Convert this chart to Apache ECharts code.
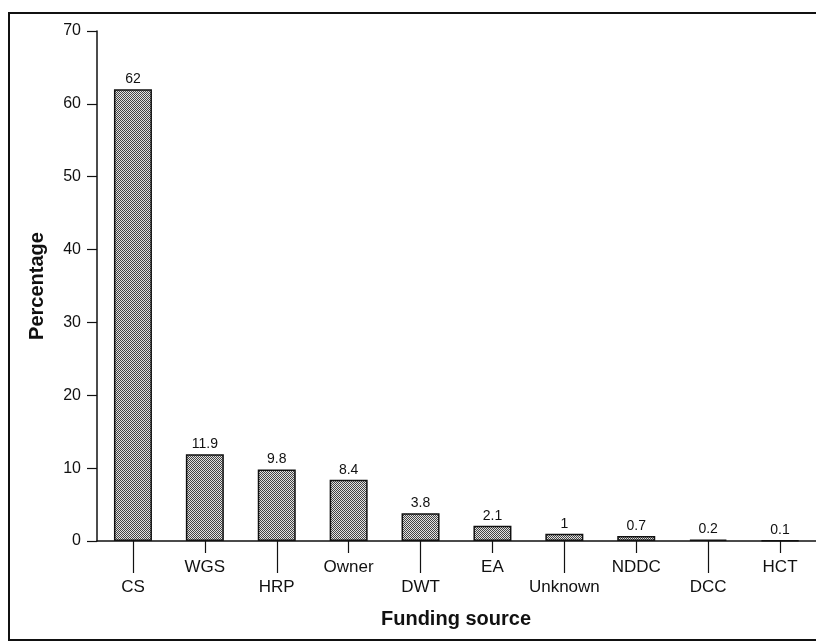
<!DOCTYPE html>
<html>
<head>
<meta charset="utf-8">
<script src="https://cdn.jsdelivr.net/npm/echarts@6/dist/echarts.min.js"></script>
<style>html,body{margin:0;padding:0;background:#fff;}#c{width:816px;height:643px;}</style>
</head>
<body>
<div id="c"></div>
<script>
var categories = ['CS','WGS','HRP','Owner','DWT','EA','Unknown','NDDC','DCC','HCT'];
var values = [62, 11.9, 9.8, 8.4, 3.8, 2.1, 1, 0.7, 0.2, 0.1];
var yTicks = [0,10,20,30,40,50,60,70];

var FONT = '"Liberation Sans", Arial, Helvetica, sans-serif';

// dotted pattern fill
var pc = document.createElement('canvas');
pc.width = 2; pc.height = 2;
var pctx = pc.getContext('2d');
pctx.fillStyle = '#e2e2e2'; pctx.fillRect(0,0,2,2);
pctx.fillStyle = '#444444'; pctx.fillRect(0,0,1,1); pctx.fillRect(1,1,1,1);

var chart = echarts.init(document.getElementById('c'), null, {renderer:'canvas'});
var option = {
  backgroundColor: '#fff',
  animation: false,
  grid: {left: 97, top: 31, width: 725, height: 510, containLabel: false},
  graphic: [{
    type: 'rect', shape: {x: 9, y: 13, width: 900, height: 627},
    style: {fill: 'none', stroke: '#111', lineWidth: 2}, z: 100
  }, {
    type: 'text', x: 456, y: 609,
    style: {text: 'Funding source', font: 'bold 20px ' + FONT, fill: '#111', textAlign: 'center'}
  }],
  xAxis: [{
    type: 'category', data: categories, position: 'bottom',
    axisLine: {show: true, lineStyle: {color: '#111', width: 1.5}},
    axisTick: {show: true, alignWithLabel: true, length: 32, lineStyle: {color: '#111', width: 1.2},
      interval: function(i){ return i % 2 === 0; }},
    axisLabel: {interval: function(i){ return i % 2 === 0; }, margin: 38, fontSize: 17, color: '#111', fontFamily: FONT},
    splitLine: {show: false}
  }, {
    type: 'category', data: categories, position: 'bottom',
    axisLine: {show: false},
    axisTick: {show: true, alignWithLabel: true, length: 12, lineStyle: {color: '#111', width: 1.2},
      interval: function(i){ return i % 2 === 1; }},
    axisLabel: {interval: function(i){ return i % 2 === 1; }, margin: 18, fontSize: 17, color: '#111', fontFamily: FONT},
    splitLine: {show: false}
  }],
  yAxis: {
    type: 'value', min: 0, max: 70, interval: 10,
    name: 'Percentage', nameLocation: 'middle', nameGap: 50, nameRotate: 90,
    nameTextStyle: {fontSize: 20, fontWeight: 'bold', color: '#111', fontFamily: FONT},
    axisLine: {show: true, lineStyle: {color: '#111', width: 1.5}},
    axisTick: {show: true, length: 10, lineStyle: {color: '#111', width: 1.2}},
    axisLabel: {margin: 16, fontSize: 16, color: '#111', fontFamily: FONT,
      formatter: function(v){ return yTicks.indexOf(v) >= 0 ? String(v) : ''; }},
    splitLine: {show: false}
  },
  series: [{
    type: 'bar', xAxisIndex: 0, data: values, barWidth: 38,
    itemStyle: {color: {image: pc, repeat: 'repeat'}, borderColor: '#111', borderWidth: 1.5},
    label: {show: true, position: 'top', distance: 3, fontSize: 14, color: '#111', fontFamily: FONT}
  }]
};
chart.setOption(option);
</script>
</body>
</html>
